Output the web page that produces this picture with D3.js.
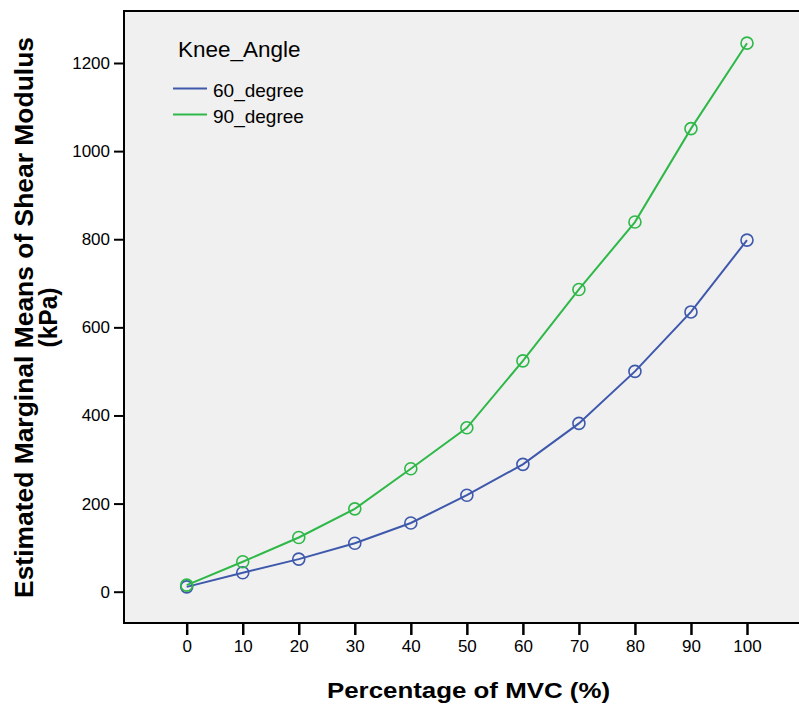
<!DOCTYPE html>
<html>
<head>
<meta charset="utf-8">
<script src="https://cdn.jsdelivr.net/npm/d3@7"></script>
<style>
  html, body { margin: 0; padding: 0; background: #fff; }
  svg { display: block; font-family: "Liberation Sans", Arial, sans-serif; }
</style>
</head>
<body>
<svg id="chart" width="799" height="711"></svg>
<script>
// Percentage of MVC levels
const mvc = [0, 10, 20, 30, 40, 50, 60, 70, 80, 90, 100];
// Estimated marginal means of shear modulus (kPa) per knee angle
const deg60 = [11, 43, 74, 110, 156, 219, 289, 382, 500, 635, 798];
const deg90 = [15, 68, 123, 188, 279, 372, 524, 686, 839, 1051, 1245];
const seriesNames = ["60_degree", "90_degree"];
const seriesColors = ["#3E58AC", "#2EB848"];
const yTicks = [0, 200, 400, 600, 800, 1000, 1200];
const xTicks = [0, 10, 20, 30, 40, 50, 60, 70, 80, 90, 100];

const svg = d3.select("#chart");
const plot = { left: 124, top: 11, right: 799, bottom: 623 };

const x = d3.scaleLinear().domain([0, 100]).range([186.7, 747]);
const y = d3.scaleLinear().domain([0, 1200]).range([591.7, 63]);

// plot background
svg.append("rect")
  .attr("x", plot.left).attr("y", plot.top)
  .attr("width", plot.right - plot.left).attr("height", plot.bottom - plot.top)
  .attr("fill", "#F0F0F0");

// frame: top, left, bottom
svg.append("path")
  .attr("d", `M${plot.right},${plot.top}H${plot.left}V${plot.bottom}H${plot.right}`)
  .attr("fill", "none").attr("stroke", "#000").attr("stroke-width", 2);

// y axis
const yAxis = svg.append("g")
  .attr("transform", `translate(${plot.left},0)`)
  .call(d3.axisLeft(y).tickValues(yTicks).tickSize(10).tickPadding(4).tickFormat(d3.format("d")));
yAxis.select(".domain").remove();
yAxis.selectAll(".tick line").attr("stroke", "#000").attr("stroke-width", 2);
yAxis.selectAll(".tick text").attr("font-size", 17).attr("fill", "#000")
  .attr("font-family", "Liberation Sans, Arial, sans-serif");

// x axis
const xAxis = svg.append("g")
  .attr("transform", `translate(0,${plot.bottom})`)
  .call(d3.axisBottom(x).tickValues(xTicks).tickSize(12).tickPadding(5).tickFormat(d3.format("d")));
xAxis.select(".domain").remove();
xAxis.selectAll(".tick line").attr("stroke", "#000").attr("stroke-width", 2.5);
xAxis.selectAll(".tick text").attr("font-size", 17).attr("fill", "#000")
  .attr("font-family", "Liberation Sans, Arial, sans-serif");

// series lines and circle markers
const series = [deg60, deg90];
const line = d3.line().x((d, i) => x(mvc[i])).y(d => y(d));
series.forEach((vals, k) => {
  svg.append("path")
    .datum(vals)
    .attr("d", line)
    .attr("fill", "none")
    .attr("stroke", seriesColors[k])
    .attr("stroke-width", 2);
  svg.append("g").selectAll("circle")
    .data(vals)
    .join("circle")
    .attr("cx", (d, i) => x(mvc[i]))
    .attr("cy", d => y(d))
    .attr("r", 6)
    .attr("fill", "none")
    .attr("stroke", seriesColors[k])
    .attr("stroke-width", 1.6);
});

// legend
const legend = svg.append("g");
legend.append("text")
  .attr("x", 178).attr("y", 57)
  .attr("font-size", 22.5).attr("fill", "#000")
  .text("Knee_Angle");
seriesNames.forEach((name, k) => {
  const ly = 88.5 + k * 26;
  legend.append("line")
    .attr("x1", 173).attr("x2", 207)
    .attr("y1", ly).attr("y2", ly)
    .attr("stroke", seriesColors[k]).attr("stroke-width", 2);
  legend.append("text")
    .attr("x", 213).attr("y", ly + 8)
    .attr("font-size", 19).attr("fill", "#000")
    .text(name);
});

// axis titles
svg.append("text")
  .attr("x", 327).attr("y", 698)
  .attr("font-size", 22.5).attr("font-weight", "bold").attr("fill", "#000")
  .attr("textLength", 283).attr("lengthAdjust", "spacingAndGlyphs")
  .text("Percentage of MVC (%)");

const yTitleLines = ["Estimated Marginal Means of Shear Modulus", "(kPa)"];
const yTitle = svg.append("text")
  .attr("transform", "translate(0,317.5) rotate(-90)")
  .attr("text-anchor", "middle")
  .attr("font-size", 26).attr("font-weight", "bold").attr("fill", "#000");
yTitle.append("tspan").attr("x", 0).attr("y", 33)
  .attr("textLength", 561).attr("lengthAdjust", "spacingAndGlyphs")
  .text(yTitleLines[0]);
yTitle.append("tspan").attr("x", 0).attr("y", 57)
  .attr("textLength", 60).attr("lengthAdjust", "spacingAndGlyphs")
  .text(yTitleLines[1]);
</script>
</body>
</html>
